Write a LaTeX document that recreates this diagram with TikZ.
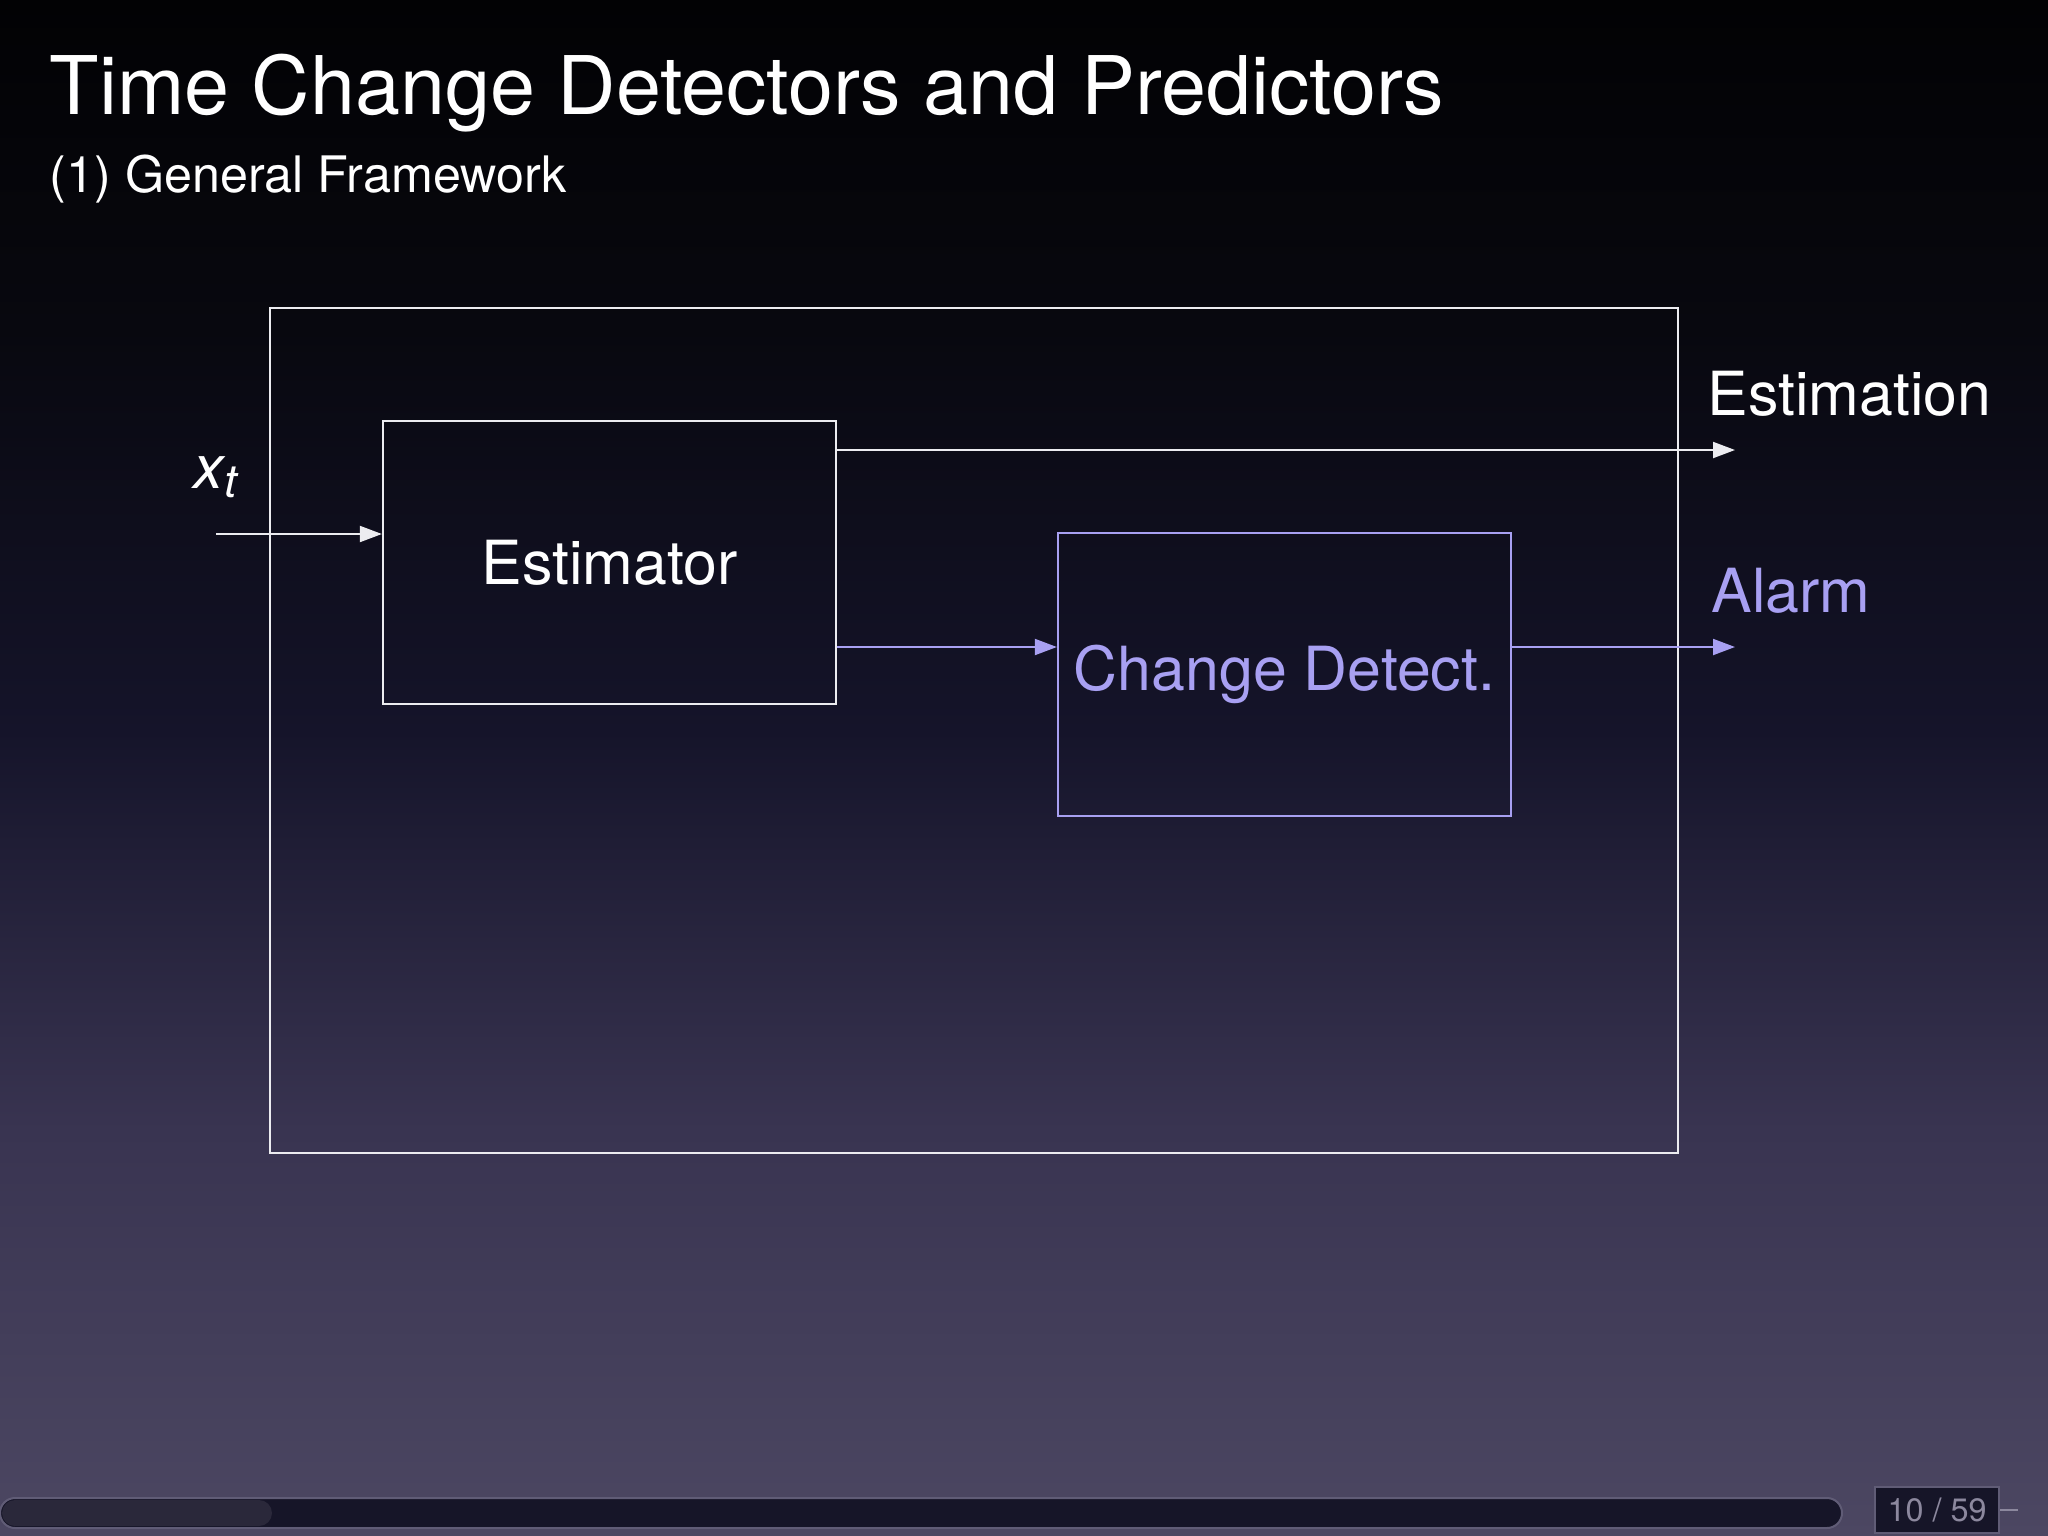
\documentclass[tikz,border=0pt]{standalone}
\usepackage{fontspec}
\setmainfont{TeX Gyre Heros}
\usetikzlibrary{arrows.meta}
\definecolor{fgline}{RGB}{236,236,240}
\definecolor{alarmcol}{RGB}{168,160,242}
\definecolor{barfill}{RGB}{22,21,40}
\definecolor{barrim}{RGB}{96,92,118}
\definecolor{barprog}{RGB}{42,40,58}
\definecolor{pagegrey}{RGB}{140,136,158}
\definecolor{bga}{RGB}{76,71,98}
\definecolor{bgb}{RGB}{57,52,81}
\definecolor{bgc}{RGB}{21,20,42}
\definecolor{bgd}{RGB}{8,8,15}
\definecolor{bge}{RGB}{2,2,4}
\pgfdeclareverticalshading{slidebg}{100bp}{color(0bp)=(bga); color(25bp)=(bga);
	color(38.2bp)=(bgb); color(51.2bp)=(bgc); color(64.3bp)=(bgd);
	color(75bp)=(bge); color(100bp)=(bge)}
\begin{document}
\begin{tikzpicture}[x=0.01cm, y=-0.01cm, font=\fontsize{17.3}{20}\selectfont,
	block/.style={draw=fgline, line width=0.02cm, minimum width=4.53cm, minimum height=2.83cm, inner sep=0pt},
	flow/.style={line width=0.02cm, -{Triangle[length=0.22cm,width=0.16cm]}}]
	%background
	\useasboundingbox (0,0) rectangle (2048,1536);
	\shade[shading=slidebg] (0,0) rectangle (2048,1536);
	%title
	\node[anchor=base west, inner sep=0, text=white, font=\fontsize{23}{26}\selectfont] (title) at (49,114) {Time Change Detectors and Predictors};
	\node[anchor=base west, inner sep=0, text=white, font=\fontsize{14.3}{17}\selectfont] (subtitle) at (49,192) {(1) General Framework};
	%boxes
	\node[draw=fgline, line width=0.02cm, minimum width=14.08cm, minimum height=8.45cm] (frame) at (974,730.5) {};
	\node[block, text=white] (est) at (609.5,562.5) {Estimator};
	\node[block, draw=alarmcol, text=alarmcol] (cd) at (1284.5,674.5) {Change Detect.};
	%ends
	\coordinate (xin) at (216,534);
	\coordinate (estout) at (1735,450);
	\coordinate (alarmout) at (1735,647);
	%arrows
	\draw[flow, fgline] (xin) -- (xin -| est.west);
	\draw[flow, fgline] (est.east |- estout) -- (estout);
	\draw[flow, alarmcol] (est.east |- alarmout) -- (cd.west |- alarmout);
	\draw[flow, alarmcol] (cd.east |- alarmout) -- (alarmout);
	%labels
	\node[anchor=base west, inner sep=0, text=white] (xlabel) at (193,488) {\itshape x\raisebox{-2.8pt}{\fontsize{13}{13}\selectfont t}};
	\node[anchor=base west, inner sep=0, text=white] (estlabel) at (1707,415) {Estimation};
	\node[anchor=base west, inner sep=0, text=alarmcol] (alarmlabel) at (1711,612) {Alarm};
	%footer
	\draw[draw=barrim, fill=barfill, line width=0.02cm, rounded corners=0.15cm] (0,1498) rectangle (1842,1528);
	\fill[barprog, rounded corners=0.13cm] (2,1500) rectangle (272,1526);
	\node[fill=barfill, draw=barrim, line width=0.02cm, minimum width=1.24cm, minimum height=0.46cm, inner sep=0, text=pagegrey, font=\fontsize{9.2}{10}\selectfont] (page) at (1937,1510) {10 / 59};
	\draw[pagegrey, line width=0.02cm] (page.east) -- ++(18,0);
\end{tikzpicture}
\end{document}
